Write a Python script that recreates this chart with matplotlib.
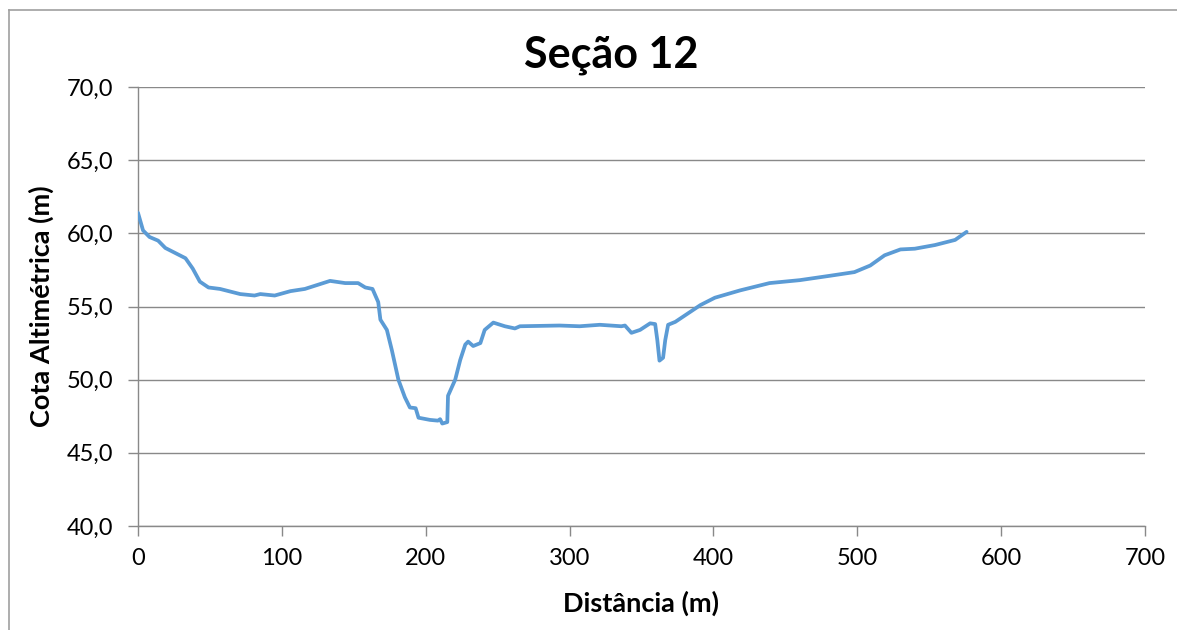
import matplotlib
matplotlib.use("Agg")
import matplotlib.pyplot as plt
from matplotlib.lines import Line2D

# Data (distance in m, elevation in m)
distancia = [0, 3.5, 8, 14, 19, 26, 33, 38, 43, 49, 57, 71, 81, 85, 95, 106, 116,
             133.5, 144, 153, 158, 163, 167, 168.5, 173, 176.5, 181, 185.5, 189, 193,
             195, 203, 208.5, 210, 211.5, 215, 215.5, 220.5, 224, 227.5, 229.5, 233,
             238, 241, 247, 255, 262, 265.5, 293, 307, 321, 336, 338.5, 343, 349, 356,
             359.5, 361, 362.5, 365, 366.5, 368.5, 373.5, 391, 401, 418.5, 439, 460,
             481, 498, 509, 519, 530, 540, 554, 568, 576]
cota = [61.4, 60.2, 59.75, 59.5, 59.0, 58.65, 58.3, 57.6, 56.7, 56.3, 56.2, 55.85,
        55.75, 55.85, 55.75, 56.05, 56.2, 56.75, 56.6, 56.6, 56.3, 56.2, 55.3, 54.1,
        53.4, 52.0, 50.0, 48.8, 48.1, 48.05, 47.4, 47.25, 47.2, 47.3, 47.0, 47.1, 48.9,
        50.0, 51.35, 52.4, 52.6, 52.3, 52.5, 53.4, 53.9, 53.65, 53.5, 53.65, 53.7,
        53.65, 53.75, 53.65, 53.7, 53.2, 53.4, 53.85, 53.8, 52.7, 51.3, 51.5, 52.7,
        53.75, 53.95, 55.1, 55.6, 56.1, 56.6, 56.8, 57.1, 57.35, 57.8, 58.5, 58.9,
        58.95, 59.2, 59.55, 60.1]

y_ticks = [40, 45, 50, 55, 60, 65, 70]
y_labels = ["40,0", "45,0", "50,0", "55,0", "60,0", "65,0", "70,0"]
x_ticks = [0, 100, 200, 300, 400, 500, 600, 700]

plt.rcParams['font.family'] = ['Lato', 'DejaVu Sans']

W, H = 1177, 630
fig = plt.figure(figsize=(W / 100, H / 100), dpi=100)
ax = fig.add_axes([138 / W, 1 - 526 / H, (1145 - 138) / W, (526 - 87) / H])

grid_c = "#898989"
ax.plot(distancia, cota, color="#5B9BD5", lw=2.7, solid_joinstyle="round",
        solid_capstyle="round", zorder=3)

ax.set_xlim(0, 700)
ax.set_ylim(40, 70)
ax.set_xticks(x_ticks)
ax.set_yticks(y_ticks)
ax.set_yticklabels(y_labels)
ax.grid(axis="y", color=grid_c, lw=1.0)
ax.set_axisbelow(True)
for s in ["top", "right"]:
    ax.spines[s].set_visible(False)
for s in ["left", "bottom"]:
    ax.spines[s].set_color(grid_c)
    ax.spines[s].set_linewidth(1.0)
ax.tick_params(axis="both", colors=grid_c, labelcolor="black", labelsize=17,
               length=7, width=1.0)
ax.tick_params(axis="y", pad=11)
ax.tick_params(axis="x", pad=9)

fig.text(611 / W, 1 - 55 / H, "Seção 12", ha="center", va="center",
         fontsize=31, fontweight="bold")
fig.text(641 / W, 1 - 603 / H, "Distância (m)", ha="center", va="center",
         fontsize=19.5, fontweight="bold")
fig.text(41 / W, 1 - 306 / H, "Cota Altimétrica (m)", ha="center", va="center",
         rotation=90, fontsize=19.5, fontweight="bold")

# outer chart border (top and left visible)
fig.add_artist(Line2D([9 / W, 1], [1 - 10 / H, 1 - 10 / H], color="#a0a0a0", lw=1.2,
                      transform=fig.transFigure))
fig.add_artist(Line2D([9 / W, 9 / W], [0, 1 - 10 / H], color="#a0a0a0", lw=1.2,
                      transform=fig.transFigure))

fig.savefig("out.png", dpi=100)
